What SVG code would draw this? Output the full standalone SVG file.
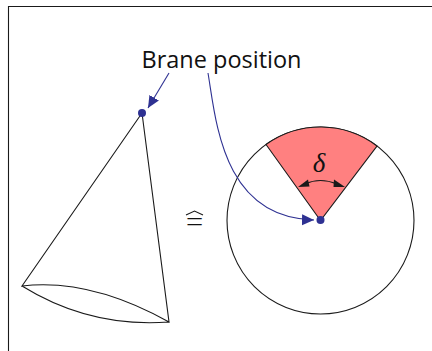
<svg xmlns="http://www.w3.org/2000/svg" width="432" height="351" viewBox="0 0 432 351">
<style>
.l{fill:none;stroke:#1a1a1a;stroke-width:1.1}
.b{fill:none;stroke:#2e3192;stroke-width:1.1}
.bf{fill:#2e3192}
.k{fill:#1a1a1a}
text{fill:#111}
</style>
<defs>
<marker id="ab" markerUnits="userSpaceOnUse" markerWidth="14" markerHeight="12" refX="12" refY="6" orient="auto"><path d="M0 0.500L12 6L0 11.500Z" fill="#2e3192"/></marker>
</defs>
<rect width="432" height="351" fill="#fff"/>
<path id="frame" class="l" d="M8.500 351V6.500H432"/>
<g id="cone"><path class="l" d="M142 113L22 286Q90 278 169 322L142 113M22 286Q90 328 169 322"/></g>
<g id="disc">
<circle class="l" cx="320.500" cy="220.500" r="93.500"/>
<path d="M320.500 220.500L266 144.500A93.500 93.500 0 0 1 377 146Z" fill="#ff8080" stroke="#1a1a1a" stroke-width="1.100"/>
<path class="l" d="M305 184Q320 177 337 184"/>
<path class="k" d="M298 187L308 179.500L309.500 186.500Z"/>
<path class="k" d="M345 187L334 179.500L333.500 187Z"/>
<text x="319" y="172" font-family="Liberation Serif, serif" font-style="italic" font-size="27" text-anchor="middle">δ</text>
</g>
<g id="connectors">
<path class="b" d="M169 73L148 108" marker-end="url(#ab)"/>
<path class="b" d="M208 73C216 120 222 218 314 220" marker-end="url(#ab)"/>
</g>
<g id="brane-dots">
<circle class="bf" cx="142" cy="113" r="4"/>
<circle class="bf" cx="320.500" cy="220" r="4"/>
</g>
<g id="label"><text x="221.500" y="68" font-family="Open Sans, sans-serif" font-size="24" text-anchor="middle" textLength="160" lengthAdjust="spacingAndGlyphs">Brane position</text></g>
<g id="equiv"><text x="194.500" y="233" font-family="Open Sans, sans-serif" font-weight="300" font-size="31" text-anchor="middle">=</text><path class="l" d="M186 215L194.500 211L203 215"/></g>
</svg>
